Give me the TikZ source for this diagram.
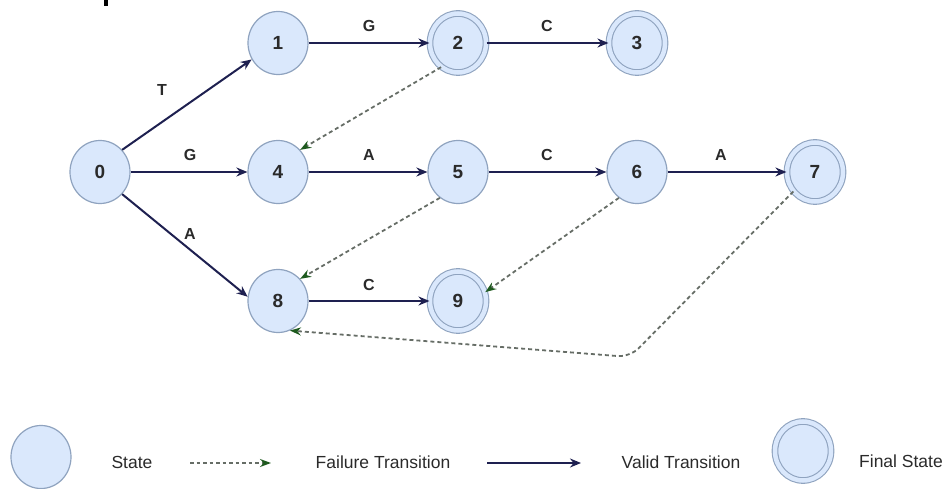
\documentclass[tikz,border=0pt]{standalone}
\usepackage{fontspec}
\setmainfont{Liberation Sans}
\usetikzlibrary{arrows.meta,shapes.geometric}
\definecolor{statefill}{HTML}{DAE8FC}
\definecolor{stateline}{HTML}{8FA3BF}
\definecolor{validcol}{HTML}{1E2050}
\definecolor{failline}{HTML}{666D66}
\definecolor{failtip}{HTML}{1E5A1E}
\definecolor{inkgray}{HTML}{2A2A2A}
\tikzset{
  state/.style={ellipse, draw=stateline, fill=statefill, line width=1.2pt,
    minimum width=60pt, minimum height=63pt, inner sep=0pt,
    font=\fontsize{19}{19}\selectfont\bfseries, text=inkgray},
  final/.style={state, double=statefill, double distance=4.5pt, line width=1.1pt,
    minimum width=56pt, minimum height=59pt},
  valid/.style={draw=validcol, line width=2pt,
    -{Stealth[length=11pt,width=9pt,fill=validcol]}},
  fail/.style={draw=failline, line width=1.8pt, dash pattern=on 4pt off 3pt,
    -{Stealth[length=11pt,width=8pt,fill=failtip,color=failtip]}},
  lbl/.style={font=\fontsize{16}{16}\selectfont\bfseries, text=inkgray},
  legtext/.style={font=\fontsize{17.5}{17.5}\selectfont, text=inkgray}
}
\begin{document}
\begin{tikzpicture}[x=1pt,y=-1pt]
\useasboundingbox (0,0) rectangle (951,489);
% stray mark at the upper edge
\fill[black] (104,0) rectangle (108,6);

% states
\node[state] (s0) at (100,172) {0};
\node[state] (s1) at (278,43) {1};
\node[final] (s2) at (458,43) {2};
\node[final] (s3) at (637,43) {3};
\node[state] (s4) at (278,172) {4};
\node[state] (s5) at (458,172) {5};
\node[state] (s6) at (637,172) {6};
\node[final] (s7) at (815,172) {7};
\node[state] (s8) at (278,301) {8};
\node[final] (s9) at (458,301) {9};

% valid transitions
\draw[valid] (s0.45) -- (s1.212);
\draw[valid] (s0) -- (s4);
\draw[valid] (s0.-45) -- (s8.172);
\draw[valid] (s1) -- (s2);
\draw[valid] (s2) -- (s3);
\draw[valid] (s4) -- (s5);
\draw[valid] (s5) -- (s6);
\draw[valid] (s6) -- (s7);
\draw[valid] (s8) -- (s9);

% transition labels
\node[lbl] (lT) at (162,90) {T};
\node[lbl] (lG1) at (369,26) {G};
\node[lbl] (lC1) at (547,26) {C};
\node[lbl] (lG2) at (190,155) {G};
\node[lbl] (lA1) at (369,155) {A};
\node[lbl] (lC2) at (547,155) {C};
\node[lbl] (lA2) at (721,155) {A};
\node[lbl] (lA3) at (190,234) {A};
\node[lbl] (lC3) at (369,285) {C};

% failure transitions
\draw[fail] (s2.235) -- (s4.45);
\draw[fail] (s5.235) -- (s8.45);
\draw[fail] (s6.235) -- (s9.18);
\coordinate (bend) at (630,357);
\draw[fail, rounded corners=12pt] (s7.222) -- (bend) -- (s8.292);

% legend
\node[state] (legstate) at (41,457) {};
\node[legtext] (tstate) at (132,462) {State};
\coordinate (fa) at (190,463);
\coordinate (fb) at (271,463);
\draw[fail, line width=1.4pt, dash pattern=on 3.5pt off 3pt] (fa) -- (fb);
\node[legtext] (tfail) at (383,462) {Failure Transition};
\coordinate (va) at (487,463);
\coordinate (vb) at (581,463);
\draw[valid, line width=1.8pt] (va) -- (vb);
\node[legtext] (tvalid) at (681,462) {Valid Transition};
\node[final] (legfinal) at (803,451) {};
\node[legtext] (tfinal) at (901,461) {Final State};
\end{tikzpicture}
\end{document}
